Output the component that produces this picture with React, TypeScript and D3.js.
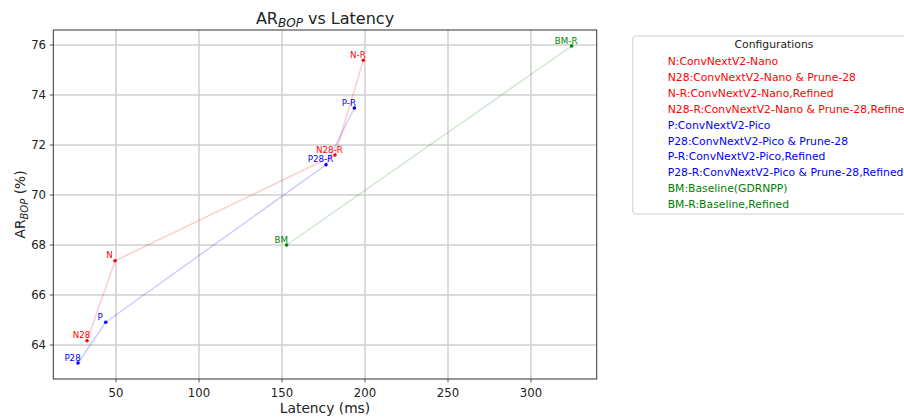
import React from "react";
import * as d3 from "d3";

const labels = ["N", "N28", "N-R", "N28-R", "P", "P28", "P-R", "P28-R", "BM", "BM-R"];
const latency = [49.4, 32.5, 199.0, 181.9, 43.8, 27.1, 193.6, 176.5, 152.8, 324.5];
const arBop = [67.37, 64.17, 75.39, 71.6, 64.91, 63.28, 73.48, 71.21, 68.0, 75.96];
const groups = ["N", "N", "N", "N", "P", "P", "P", "P", "BM", "BM"];
const legendTexts = [
  "N:ConvNextV2-Nano",
  "N28:ConvNextV2-Nano & Prune-28",
  "N-R:ConvNextV2-Nano,Refined",
  "N28-R:ConvNextV2-Nano & Prune-28,Refined",
  "P:ConvNextV2-Pico",
  "P28:ConvNextV2-Pico & Prune-28",
  "P-R:ConvNextV2-Pico,Refined",
  "P28-R:ConvNextV2-Pico & Prune-28,Refined",
  "BM:Baseline(GDRNPP)",
  "BM-R:Baseline,Refined",
];
const xTicks = [50, 100, 150, 200, 250, 300];
const yTicks = [64, 66, 68, 70, 72, 74, 76];
const groupColors: Record<string, string> = { N: "#ff0000", P: "#0000ff", BM: "#008000" };

const W = 904, H = 418;
const L = 53.3, R = 596.7, T = 30, B = 379;
const FONT = "DejaVu Sans, sans-serif";

export default function App() {
  const x = d3.scaleLinear().domain([12.2, 339.6]).range([L, R]);
  const y = d3.scaleLinear().domain([62.64, 76.6]).range([B, T]);
  const pts = labels.map((l, i) => ({ l, x: latency[i], y: arBop[i], g: groups[i] }));
  const line = d3.line<{ x: number; y: number }>().x(d => x(d.x)).y(d => y(d.y));
  const groupKeys = ["N", "P", "BM"];

  return (
    <svg width={W} height={H} style={{ position: "absolute", left: 0, top: 0, background: "#fff" }} fontFamily={FONT}>
      <rect x={0} y={0} width={W} height={H} fill="#fff" />
      {/* grid */}
      {xTicks.map(t => (
        <line key={"gx" + t} x1={x(t)} x2={x(t)} y1={T} y2={B} stroke="#cfcfcf" strokeWidth={1.5} />
      ))}
      {yTicks.map(t => (
        <line key={"gy" + t} x1={L} x2={R} y1={y(t)} y2={y(t)} stroke="#cfcfcf" strokeWidth={1.5} />
      ))}
      {/* lines */}
      {groupKeys.map(g => {
        const gp = pts.filter(p => p.g === g).sort((a, b) => a.x - b.x);
        return (
          <path key={"l" + g} d={line(gp) || ""} fill="none" stroke={groupColors[g]} strokeOpacity={0.2} strokeWidth={1.5} />
        );
      })}
      {/* points */}
      {pts.map(p => (
        <circle key={"c" + p.l} cx={x(p.x)} cy={y(p.y)} r={1.8} fill={groupColors[p.g]} />
      ))}
      {pts.map(p => (
        <text key={"t" + p.l} x={x(p.x) - 5.5} y={y(p.y) - 2.5} fontSize={8.7} textAnchor="middle" fill={groupColors[p.g]}>
          {p.l}
        </text>
      ))}
      {/* spines */}
      <rect x={L} y={T} width={R - L} height={B - T} fill="none" stroke="#333" strokeWidth={1} />
      {/* ticks */}
      {xTicks.map(t => (
        <g key={"xt" + t}>
          <line x1={x(t)} x2={x(t)} y1={B} y2={B + 3.5} stroke="#333" strokeWidth={0.8} />
          <text x={x(t)} y={397} fontSize={11.7} textAnchor="middle" fill="#222">{t}</text>
        </g>
      ))}
      {yTicks.map(t => (
        <g key={"yt" + t}>
          <line x1={L - 3.5} x2={L} y1={y(t)} y2={y(t)} stroke="#333" strokeWidth={0.8} />
          <text x={46} y={y(t)} dy="0.36em" fontSize={11.7} textAnchor="end" fill="#222">{t}</text>
        </g>
      ))}
      {/* title */}
      <text x={(L + R) / 2} y={24} fontSize={16} textAnchor="middle" fill="#222">
        AR<tspan fontStyle="italic" fontSize={12} dy={3}>BOP</tspan><tspan dy={-3}> vs Latency</tspan>
      </text>
      {/* axis labels */}
      <text x={(L + R) / 2} y={413} fontSize={13.8} textAnchor="middle" fill="#222">Latency (ms)</text>
      <text transform={`translate(24.5, ${(T + B) / 2}) rotate(-90)`} fontSize={13.8} textAnchor="middle" fill="#222">
        AR<tspan fontStyle="italic" fontSize={10} dy={3}>BOP</tspan><tspan dy={-3}> (%)</tspan>
      </text>
      {/* legend */}
      <rect x={632.7} y={36} width={300} height={178} rx={3} fill="#fff" stroke="#d0d0d0" strokeWidth={1} />
      <text x={774} y={47.5} fontSize={10.8} textAnchor="middle" fill="#222">Configurations</text>
      {legendTexts.map((s, i) => (
        <text key={"lg" + i} x={667.7} y={65 + i * 15.9} fontSize={10.8} fill={groupColors[groups[i]]}>{s}</text>
      ))}
    </svg>
  );
}
